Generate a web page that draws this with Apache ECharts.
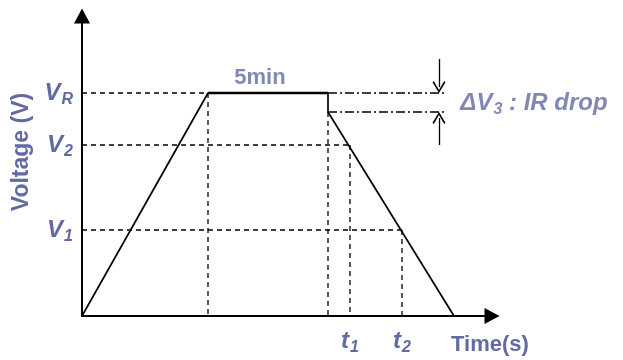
<!DOCTYPE html>
<html>
<head>
<meta charset="utf-8">
<script src="https://cdn.jsdelivr.net/npm/echarts@6/dist/echarts.min.js"></script>
<style>
  html, body { margin: 0; padding: 0; background: #fff; }
  #chart { width: 623px; height: 360px; }
</style>
</head>
<body>
<div id="chart"></div>
<script>
// time marks (axis units) and voltage levels
const tRampEnd = 126;
const tRest = 246;
const t1 = 268;
const t2 = 320;
const tEnd = 372;
const vR = 223;
const vDrop = 204;
const v2 = 171;
const v1 = 86;

const profile = [[0, 0], [tRampEnd, vR], [tRest, vR], [tRest, vDrop], [tEnd, 0]];
const plateau = [[tRampEnd, vR], [tRest, vR]];
const yTicks = [v1, v2, vR];
const yTickLabels = ['{v|V}{s|1}', '{v|V}{s|2}', '{v|V}{s|R}'];
const xTicks = [t1, t2, 408];
const xTickLabels = ['{v|t}{s|1}', '{v|t}{s|2}', '{tm|Time(s)}'];

const guides = [
  [[0, vR], [tRampEnd, vR]],
  [[tRampEnd, vR], [tRampEnd, 0]],
  [[tRest, vDrop], [tRest, 0]],
  [[0, v2], [t1, v2]],
  [[t1, v2], [t1, 0]],
  [[0, v1], [t2, v1]],
  [[t2, v1], [t2, 0]]
];
const dropGuides = [
  [[tRest, vR], [363, vR]],
  [[tRest, vDrop], [363, vDrop]]
];
const dropArrows = [
  [[357, 257], [357, vR + 6]],
  [[357, 171], [357, vDrop - 6]]
];

const textColor = '#626aa3';
const font = 'Liberation Sans, Arial, sans-serif';

const chart = echarts.init(document.getElementById('chart'));

const rich = {
  v: { fontSize: 24, fontWeight: 'bold', fontStyle: 'italic', color: textColor, fontFamily: font },
  s: { fontSize: 16, fontWeight: 'bold', fontStyle: 'italic', color: textColor, fontFamily: font, padding: [13, 0, 0, 1] },
  n: { fontSize: 22, fontWeight: 'bold', color: textColor, fontFamily: font },
  tm: { fontSize: 22, fontWeight: 'bold', color: textColor, fontFamily: font, padding: [7, 0, 0, 0] }
};

const toLines = (list, type, width) => list.map(seg => ({
  type: 'line',
  data: seg,
  symbol: 'none',
  silent: true,
  lineStyle: { color: '#000', width: width, type: type }
}));

chart.setOption({
  animation: false,
  grid: { left: 82, top: 16, width: 410, height: 300 },
  xAxis: {
    type: 'value',
    min: 0,
    max: 410,
    splitLine: { show: false },
    axisTick: { show: false },
    axisLine: { lineStyle: { color: '#000', width: 2 }, symbol: ['none', 'triangle'], symbolSize: [16, 15] },
    axisLabel: {
      customValues: xTicks,
      margin: 11,
      formatter: v => xTickLabels[xTicks.indexOf(v)],
      rich: rich
    }
  },
  yAxis: {
    type: 'value',
    min: 0,
    max: 300,
    name: 'Voltage (V)',
    nameLocation: 'middle',
    nameGap: 45,
    nameTextStyle: { color: textColor, fontSize: 23, fontWeight: 'bold', fontFamily: font, padding: [0, 0, 0, 28] },
    splitLine: { show: false },
    axisTick: { show: false },
    axisLine: { lineStyle: { color: '#000', width: 2 }, symbol: ['none', 'triangle'], symbolSize: [16, 15] },
    axisLabel: {
      customValues: yTicks,
      margin: 9,
      formatter: v => yTickLabels[yTicks.indexOf(v)],
      rich: rich
    }
  },
  series: [
    ...toLines(guides, [5, 4], 1.3),
    ...toLines(dropGuides, [9, 3, 2, 3], 1.3),
    {
      type: 'line',
      data: [],
      silent: true,
      markLine: {
        silent: true,
        animation: false,
        symbol: ['none', 'path://M5,0L10,9L9,10L5,2.5L1,10L0,9Z'],
        symbolSize: [13, 12],
        label: { show: false },
        lineStyle: { color: '#000', width: 1.3, type: 'solid' },
        data: dropArrows.map(seg => [{ coord: seg[0] }, { coord: seg[1] }])
      }
    },
    {
      type: 'line',
      data: profile,
      symbol: 'none',
      silent: true,
      lineStyle: { color: '#000', width: 1.7 }
    },
    {
      type: 'line',
      data: plateau,
      symbol: 'none',
      silent: true,
      lineStyle: { color: '#000', width: 2.7 }
    },
    {
      type: 'scatter',
      clip: false,
      silent: true,
      symbolSize: 0,
      data: [
        { value: [178, 238], label: { formatter: '{n|5min}' } },
        { value: [452, 213], label: { formatter: '{v|ΔV}{s|3}{v| : IR drop}' } }
      ],
      label: { show: true, position: 'inside', rich: rich }
    }
  ]
});
</script>
</body>
</html>
